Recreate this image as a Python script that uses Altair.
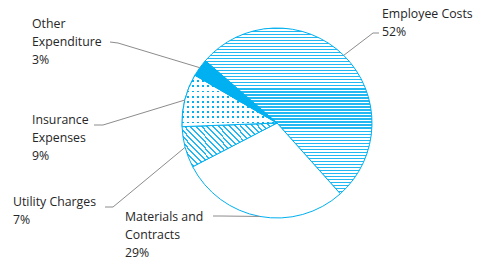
import math
import altair as alt
import pandas as pd

# ---- data ----
categories = ["Employee Costs", "Materials and Contracts", "Utility Charges",
              "Insurance Expenses", "Other Expenditure"]
shares = [52, 29, 7, 9, 3]
label_texts = ["Employee Costs\n52%", "Materials and\nContracts\n29%",
               "Utility Charges\n7%", "Insurance\nExpenses\n9%",
               "Other\nExpenditure\n3%"]

# ---- layout / style ----
W, H = 468, 252
CX, CY, R = 269, 115, 95
START = math.radians(-49)
BLUE = "#00b0f0"
STRIPE = "#22b9f2"
label_pos = {  # left x, first baseline y
    "Employee Costs": (374, 10),
    "Materials and Contracts": (117, 213),
    "Utility Charges": (5, 198),
    "Insurance Expenses": (24, 116),
    "Other Expenditure": (24, 19.5),
}
leader_pts = {  # label end, elbow
    "Employee Costs": [(371, 25), (365, 25)],
    "Materials and Contracts": [(205, 208), (213, 208)],
    "Utility Charges": [(97, 199), (105, 199)],
    "Insurance Expenses": [(86, 117), (95, 117)],
    "Other Expenditure": [(102, 34), (110, 35)],
}

df = pd.DataFrame({"cat": categories, "share": shares, "order": range(len(shares))})

total = sum(shares)
rows_t, rows_l = [], []
cum = 0
for c, s, t in zip(categories, shares, label_texts):
    mid = START + (cum + s / 2) / total * 2 * math.pi
    cum += s
    ax, ay = CX + R * math.sin(mid), CY - R * math.cos(mid)
    lx, ly = label_pos[c]
    rows_t.append({"cat": c, "text": t, "lx": lx, "ly": ly})
    pts = leader_pts[c] + [(ax, ay)]
    for i, (px, py) in enumerate(pts):
        rows_l.append({"cat": c, "i": i, "px": px, "py": py})
labels_df = pd.DataFrame(rows_t)
leaders_df = pd.DataFrame(rows_l)


def stripes(n, frac, c1, c2):
    stops = []
    for k in range(n):
        a, b, e = k / n, (k + frac) / n, (k + 1) / n
        stops += [{"offset": a, "color": c1}, {"offset": b, "color": c1},
                  {"offset": b, "color": c2}, {"offset": e, "color": c2}]
    return stops


def grad(stops, x1, y1, x2, y2):
    return {"gradient": "linear", "stops": stops,
            "x1": x1, "y1": y1, "x2": x2, "y2": y2}


fills = {
    "Employee Costs": [grad(stripes(55, 0.4, STRIPE, "#ffffff"), 0, 0, 0, 1)],
    "Materials and Contracts": ["#ffffff"],
    "Utility Charges": [grad(stripes(24, 0.34, STRIPE, "#ffffff"), 0, 1, 1.206, 0.472)],
    "Insurance Expenses": [grad(stripes(19, 0.35, BLUE, "#ffffff"), 0, 0, 1, 0),
                           grad(stripes(10, 0.35, "rgba(255,255,255,0)", "#ffffff"), 0, 0, 0, 1)],
    "Other Expenditure": [BLUE],
}

base = alt.Chart(df).transform_window(
    cum="sum(share)", sort=[alt.SortField("order")]
).transform_calculate(start="datum.cum - datum.share")

theta_scale = alt.Scale(domain=[0, total], range=[START, START + 2 * math.pi])

layers = []
for c in categories:
    for f in fills[c]:
        layers.append(
            base.transform_filter(alt.datum.cat == c)
            .mark_arc(fill=f, stroke=BLUE, strokeWidth=1)
            .encode(
                theta=alt.Theta("start:Q", scale=theta_scale),
                theta2="cum:Q",
                radius=alt.value(R),
                x=alt.value(CX),
                y=alt.value(CY),
            )
        )

leaders = alt.Chart(leaders_df).mark_line(color="#8c8c8c", strokeWidth=1).encode(
    x=alt.X("px:Q", scale=None, axis=None),
    y=alt.Y("py:Q", scale=None, axis=None),
    detail="cat:N",
    order="i:O",
)

texts = alt.Chart(labels_df).mark_text(
    align="left", baseline="alphabetic", lineBreak="\n", lineHeight=18,
    font="Open Sans", fontSize=12.3, color="#262626"
).encode(
    x=alt.X("lx:Q", scale=None, axis=None),
    y=alt.Y("ly:Q", scale=None, axis=None),
    text="text:N",
)

chart = alt.layer(*layers, leaders, texts).properties(
    width=W, height=H, padding=0, autosize=alt.AutoSizeParams(type="none")
).configure_view(stroke=None)

chart.save("out.html", embed_options={"renderer": "svg", "actions": False})
